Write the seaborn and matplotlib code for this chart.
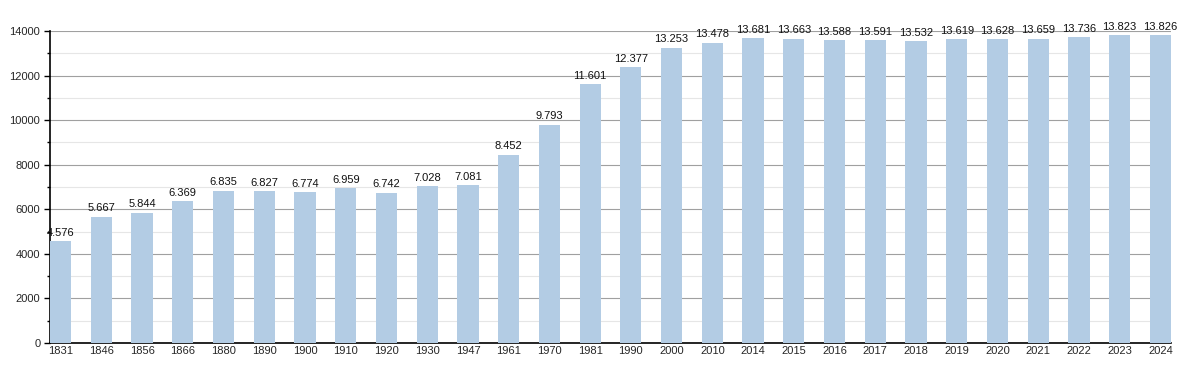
import matplotlib
matplotlib.use("Agg")
import pandas as pd
import matplotlib.pyplot as plt
import seaborn as sns
import matplotlib.ticker as ticker

years = ["1831", "1846", "1856", "1866", "1880", "1890", "1900", "1910", "1920",
         "1930", "1947", "1961", "1970", "1981", "1990", "2000", "2010", "2014",
         "2015", "2016", "2017", "2018", "2019", "2020", "2021", "2022", "2023",
         "2024"]
population = [4576, 5667, 5844, 6369, 6835, 6827, 6774, 6959, 6742,
              7028, 7081, 8452, 9793, 11601, 12377, 13253, 13478, 13681,
              13663, 13588, 13591, 13532, 13619, 13628, 13659, 13736, 13823,
              13826]

df = pd.DataFrame({"year": years, "pop": population})

sns.set_theme(style="white")
plt.rcParams["font.family"] = ["Liberation Sans", "DejaVu Sans"]

fig, ax = plt.subplots(figsize=(12, 3.73), dpi=100)
fig.subplots_adjust(left=50 / 1200, right=1171 / 1200, top=1 - 31 / 373, bottom=1 - 343 / 373)

sns.barplot(data=df, x="year", y="pop", color="#b3cce4", width=0.52, saturation=1,
            linewidth=0, ax=ax, zorder=3)

ax.set_xlim(-0.26, len(years) - 0.74)
ax.set_ylim(0, 14000)
ax.yaxis.set_major_locator(ticker.MultipleLocator(2000))
ax.yaxis.set_minor_locator(ticker.MultipleLocator(1000))
ax.grid(axis="y", which="major", color="#a0a0a0", linewidth=0.8, zorder=0)
ax.grid(axis="y", which="minor", color="#e6e6e6", linewidth=0.8, zorder=0)
ax.set_axisbelow(True)

for side in ["top", "right"]:
    ax.spines[side].set_visible(False)
for side in ["left", "bottom"]:
    ax.spines[side].set_color("black")
    ax.spines[side].set_linewidth(1.2)

ax.tick_params(axis="y", which="major", left=True, length=4, width=1, color="black",
               labelsize=8, pad=3)
ax.tick_params(axis="y", which="minor", left=True, length=2, width=1, color="black")
ax.tick_params(axis="x", bottom=False, length=0, labelsize=8, pad=2)
ax.set_xlabel("")
ax.set_ylabel("")

for i, v in enumerate(population):
    label = f"{v:,}".replace(",", ".")
    ax.text(i, v + 150, label, ha="center", va="bottom", fontsize=8, color="#111111")

plt.savefig("out.png", dpi=100)
